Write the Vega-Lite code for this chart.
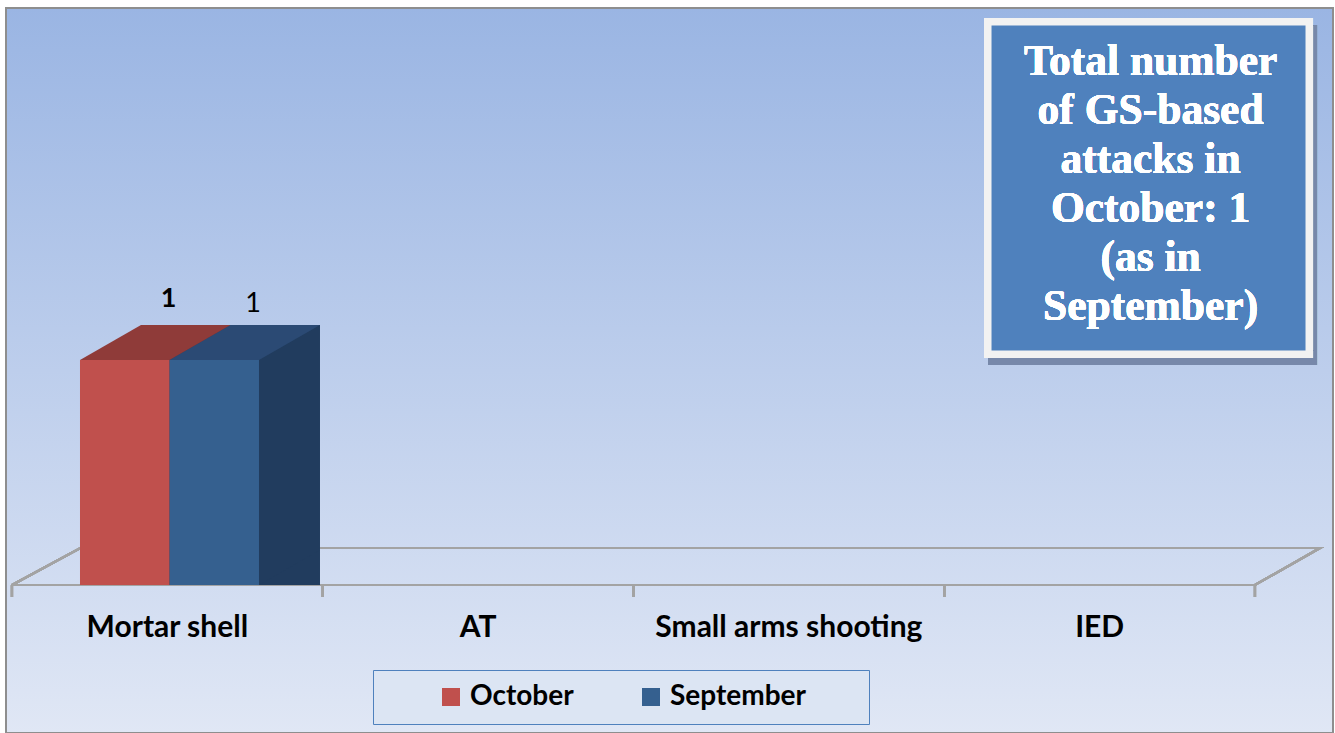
{
  "$schema": "https://vega.github.io/schema/vega-lite/v6.json",
  "width": 1327,
  "height": 725,
  "autosize": {"type": "none"},
  "padding": {"left": 6, "top": 8, "right": 2, "bottom": 0},
  "background": "white",
  "config": {
    "view": {
      "fill": {"gradient": "linear", "x1": 0, "y1": 0, "x2": 0, "y2": 1,
        "stops": [{"offset": 0, "color": "#9AB5E3"}, {"offset": 1, "color": "#E0E7F5"}]},
      "stroke": "#8E8E8E",
      "strokeWidth": 2
    }
  },
  "data": {"values": [
    {"category": "Mortar shell", "series": "October", "value": 1},
    {"category": "Mortar shell", "series": "September", "value": 1},
    {"category": "AT", "series": "October", "value": 0},
    {"category": "AT", "series": "September", "value": 0},
    {"category": "Small arms shooting", "series": "October", "value": 0},
    {"category": "Small arms shooting", "series": "September", "value": 0},
    {"category": "IED", "series": "October", "value": 0},
    {"category": "IED", "series": "September", "value": 0}
  ]},
  "layer": [
    {
      "mark": {"type": "point", "shape": "M-155.4,0L-87,-37L1152.6,-37L1087.6,0Z M-155.4,0V12 M155.4,0V12 M466.1,0V12 M776.9,0V12 M1087.6,0V12", "size": 4, "filled": false, "stroke": "#A3A3A3", "strokeWidth": 2.2, "opacity": 1},
      "encoding": {
        "x": {"datum": "Mortar shell", "type": "nominal", "axis": null},
        "y": {"datum": 0, "type": "quantitative", "axis": null}
      }
    },
    {
      "transform": [{"filter": "datum.series === 'October'"}],
      "mark": {"type": "text", "font": "Lato", "fontWeight": "bold", "fontSize": 30, "dy": 52, "baseline": "alphabetic", "align": "center", "color": "#000000"},
      "encoding": {
        "x": {"field": "category", "type": "nominal", "axis": null},
        "y": {"datum": 0, "type": "quantitative", "axis": null},
        "text": {"field": "category", "type": "nominal"}
      }
    },
    {
      "transform": [{"filter": "datum.value > 0"}],
      "mark": {"type": "bar", "yOffset": -35, "y2Offset": -35},
      "encoding": {
        "x": {"field": "category", "type": "nominal", "axis": null},
        "xOffset": {"field": "series", "type": "nominal", "scale": {"type": "band", "domain": ["October", "September"], "paddingInner": 0, "paddingOuter": 0.73603, "align": 0.9791}},
        "y": {"field": "value", "type": "quantitative", "stack": null, "axis": null},
        "color": {"condition": {"test": "datum.series === 'October'", "value": "#7E2F2D"}, "value": "#213C5E"}
      }
    },
    {
      "transform": [{"filter": "datum.value > 0"}],
      "mark": {"type": "point", "shape": "M44.75,0L44.75,-35L105.75,-35Z", "size": 4, "filled": true, "opacity": 1, "strokeWidth": 0},
      "encoding": {
        "x": {"field": "category", "type": "nominal", "axis": null},
        "xOffset": {"field": "series", "type": "nominal", "scale": {"type": "band", "domain": ["October", "September"], "paddingInner": 0, "paddingOuter": 0.73603, "align": 0.5161}},
        "y": {"datum": 0, "type": "quantitative", "axis": null},
        "color": {"condition": {"test": "datum.series === 'October'", "value": "#7E2F2D"}, "value": "#213C5E"}
      }
    },
    {
      "mark": {"type": "bar"},
      "encoding": {
        "x": {"field": "category", "type": "nominal",
          "sort": ["Mortar shell", "AT", "Small arms shooting", "IED"],
          "scale": {"type": "band", "domain": ["Mortar shell", "AT", "Small arms shooting", "IED"], "paddingInner": 0, "paddingOuter": 0.13516, "align": 0.0714},
          "axis": null},
        "xOffset": {"field": "series", "type": "nominal", "scale": {"type": "band", "domain": ["October", "September"], "paddingInner": 0, "paddingOuter": 0.73603, "align": 0.5161}},
        "y": {"field": "value", "type": "quantitative", "stack": null, "axis": null, "scale": {"domain": [-0.65778, 2.56444], "nice": false}},
        "color": {"field": "series", "type": "nominal",
          "scale": {"domain": ["October", "September"], "range": ["#C0504D", "#35608F"]},
          "legend": {"orient": "none", "legendX": 367, "legendY": 662, "direction": "horizontal", "title": "\u00a0", "titleOrient": "right", "titlePadding": 50, "symbolType": "square", "symbolSize": 324, "symbolStrokeWidth": 0, "symbolOffset": 51, "labelOffset": 5, "columnPadding": 12, "labelFont": "Lato", "labelFontWeight": "bold", "labelFontSize": 28, "labelColor": "#000000", "padding": 13, "fillColor": "#DCE5F3", "strokeColor": "#4F81BD"}}
      }
    },
    {
      "transform": [{"filter": "datum.value > 0"}],
      "mark": {"type": "point", "shape": "M-44.75,0L44.75,0L105.75,-35L16.25,-35Z", "size": 4, "filled": true, "opacity": 1, "strokeWidth": 0},
      "encoding": {
        "x": {"field": "category", "type": "nominal", "axis": null},
        "xOffset": {"field": "series", "type": "nominal", "scale": {"type": "band", "domain": ["October", "September"], "paddingInner": 0, "paddingOuter": 0.73603, "align": 0.5161}},
        "y": {"field": "value", "type": "quantitative", "stack": null, "axis": null},
        "color": {"condition": {"test": "datum.series === 'October'", "value": "#8F3B39"}, "value": "#2B4A74"}
      }
    },
    {
      "transform": [{"filter": "datum.value > 0 && datum.series === 'October'"}],
      "mark": {"type": "text", "font": "Lato", "fontWeight": "bold", "fontSize": 27, "dx": 43.75, "dy": -53, "baseline": "alphabetic", "color": "#000000"},
      "encoding": {
        "x": {"field": "category", "type": "nominal", "axis": null},
        "xOffset": {"field": "series", "type": "nominal", "scale": {"type": "band", "domain": ["October", "September"], "paddingInner": 0, "paddingOuter": 0.73603, "align": 0.5161}},
        "y": {"field": "value", "type": "quantitative", "stack": null, "axis": null},
        "text": {"field": "value", "type": "quantitative"}
      }
    },
    {
      "transform": [{"filter": "datum.value > 0 && datum.series === 'September'"}],
      "mark": {"type": "text", "font": "Lato", "fontWeight": "normal", "fontSize": 27, "dx": 38.75, "dy": -48, "baseline": "alphabetic", "color": "#000000"},
      "encoding": {
        "x": {"field": "category", "type": "nominal", "axis": null},
        "xOffset": {"field": "series", "type": "nominal", "scale": {"type": "band", "domain": ["October", "September"], "paddingInner": 0, "paddingOuter": 0.73603, "align": 0.5161}},
        "y": {"field": "value", "type": "quantitative", "stack": null, "axis": null},
        "text": {"field": "value", "type": "quantitative"}
      }
    },
    {
      "mark": {"type": "point", "shape": "M-164.5,-170H164.5V170H-164.5Z", "size": 4, "filled": true, "opacity": 1, "fill": "#7788AA", "strokeWidth": 0, "xOffset": 52.9, "yOffset": 7},
      "encoding": {
        "x": {"datum": "IED", "type": "nominal", "axis": null},
        "y": {"datum": 1.7644, "type": "quantitative", "axis": null}
      }
    },
    {
      "mark": {"type": "point", "shape": "M-160.75,-166.25H160.75V166.25H-160.75Z", "size": 4, "filled": true, "opacity": 1, "fill": "#4F81BD", "stroke": "#F2F2F2", "strokeWidth": 7.5, "xOffset": 48.9},
      "encoding": {
        "x": {"datum": "IED", "type": "nominal", "axis": null},
        "y": {"datum": 1.7644, "type": "quantitative", "axis": null}
      }
    },
    {
      "mark": {"type": "text", "text": ["Total number", "of GS-based", "attacks in", "October: 1", "(as in", "September)"], "font": "Liberation Serif", "fontWeight": "bold", "fontSize": 43.5, "lineHeight": 49, "color": "#FFFFFF", "align": "center", "baseline": "alphabetic", "xOffset": 51},
      "encoding": {
        "x": {"datum": "IED", "type": "nominal", "axis": null},
        "y": {"datum": 2.2667, "type": "quantitative", "axis": null}
      }
    }
  ],
  "resolve": {"scale": {"xOffset": "independent"}}
}
